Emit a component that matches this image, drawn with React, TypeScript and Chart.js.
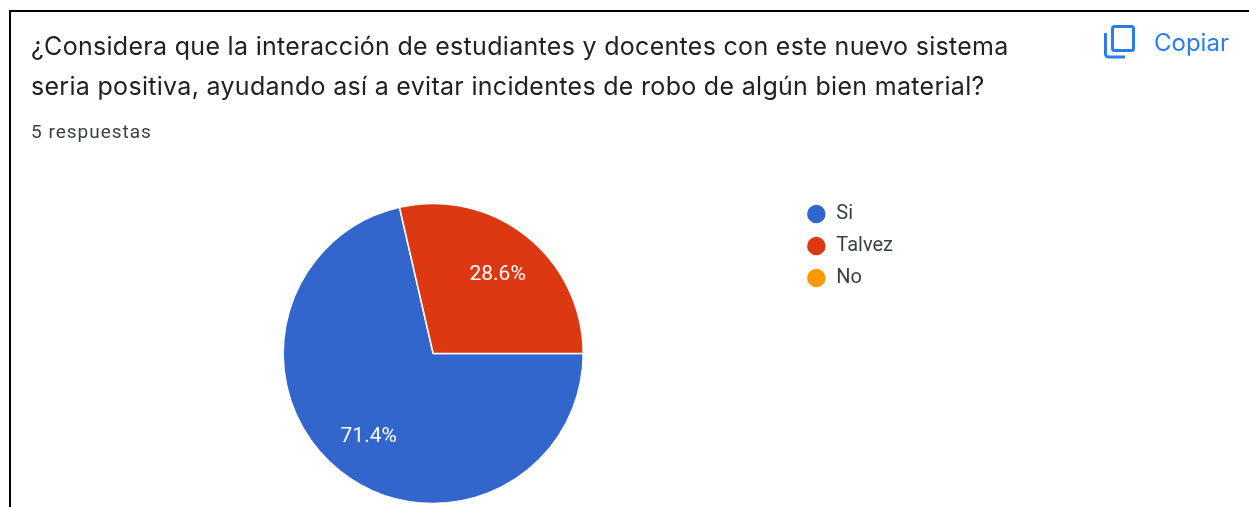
import React, { useEffect, useRef } from "react";
import { Chart, registerables } from "chart.js";

Chart.register(...registerables);

const categories = ["Si", "Talvez", "No"];
const seriesValues = [71.4, 28.6, 0];
const sliceColors = ["#3366cc", "#dc3912", "#ff9900"];
const titleLines = [
  "¿Considera que la interacción de estudiantes y docentes con este nuevo sistema",
  "seria positiva, ayudando así a evitar incidentes de robo de algún bien material?",
];
const responsesText = "5 respuestas";
const copyText = "Copiar";

const sliceLabels = {
  id: "sliceLabels",
  afterDatasetsDraw(chart: any) {
    const { ctx } = chart;
    const meta = chart.getDatasetMeta(0);
    const values = chart.data.datasets[0].data as number[];
    const total = values.reduce((a, b) => a + b, 0);
    ctx.save();
    ctx.fillStyle = "#ffffff";
    ctx.font = '21px Roboto';
    ctx.textAlign = "center";
    ctx.textBaseline = "middle";
    meta.data.forEach((arc: any, i: number) => {
      if (!values[i]) return;
      const { x, y, startAngle, endAngle, outerRadius } = arc.getProps(["x", "y", "startAngle", "endAngle", "outerRadius"], true);
      const mid = (startAngle + endAngle) / 2;
      const r = outerRadius * 0.69;
      ctx.fillText(((values[i] / total) * 100).toFixed(1) + "%", x + Math.cos(mid) * r, y + Math.sin(mid) * r + 2);
    });
    ctx.restore();
  },
};

export default function App() {
  const ref = useRef<HTMLCanvasElement>(null);
  useEffect(() => {
    const chart = new Chart(ref.current!, {
      type: "pie",
      data: {
        labels: categories,
        datasets: [{ data: seriesValues, backgroundColor: sliceColors, borderColor: "#ffffff", borderWidth: 1.5 }],
      },
      options: {
        animation: false,
        responsive: false,
        rotation: 90,
        layout: { padding: { left: 72, top: 192, bottom: 85, right: 346 } },
        plugins: {
          tooltip: { enabled: false },
          legend: {
            position: "right",
            align: "start",
            labels: {
              usePointStyle: true,
              pointStyle: "circle",
              pointStyleWidth: 20,
              boxHeight: 14.14,
              padding: 12,
              color: "#3c4043",
              font: { family: "Roboto", size: 20 },
            },
          },
        },
        radius: 150,
      } as any,
      plugins: [sliceLabels],
    });
    return () => chart.destroy();
  }, []);

  return (
    <div style={{ position: "fixed", left: 0, top: 0, width: 1249, height: 507, overflow: "hidden", background: "#fff" }}>
      <canvas ref={ref} width={1249} height={600} style={{ position: "absolute", left: 0, top: 0, width: 1249, height: 600 }} />
      <div style={{ position: "absolute", left: 9, top: 10, width: 2, height: 497, background: "#000" }} />
      <div style={{ position: "absolute", left: 9, top: 10, width: 1240, height: 2, background: "#000" }} />
      {titleLines.map((line, i) => (
        <div key={i} style={{ position: "absolute", left: 31, top: 28 + i * 40, lineHeight: "36px", whiteSpace: "nowrap", fontFamily: "Inter", fontSize: 25, letterSpacing: 0.3, color: "#202124" }}>{line}</div>
      ))}
      <div style={{ position: "absolute", left: 31, top: 120, lineHeight: "24px", whiteSpace: "nowrap", fontFamily: "Roboto", fontSize: 19, letterSpacing: 1, color: "#3c4043" }}>{responsesText}</div>
      <svg style={{ position: "absolute", left: 1103, top: 25 }} width={33} height={36} viewBox="0 0 33 36">
        <rect x={9.5} y={1.5} width={21} height={24} rx={2} fill="none" stroke="#2b7de9" strokeWidth={3} />
        <path d="M2.5 8 V29 a3 3 0 0 0 3 3 H22" fill="none" stroke="#2b7de9" strokeWidth={3} />
      </svg>
      <div style={{ position: "absolute", left: 1154, top: 25, lineHeight: "36px", whiteSpace: "nowrap", fontFamily: "Inter", fontSize: 24, color: "#2b7de9" }}>{copyText}</div>
    </div>
  );
}
